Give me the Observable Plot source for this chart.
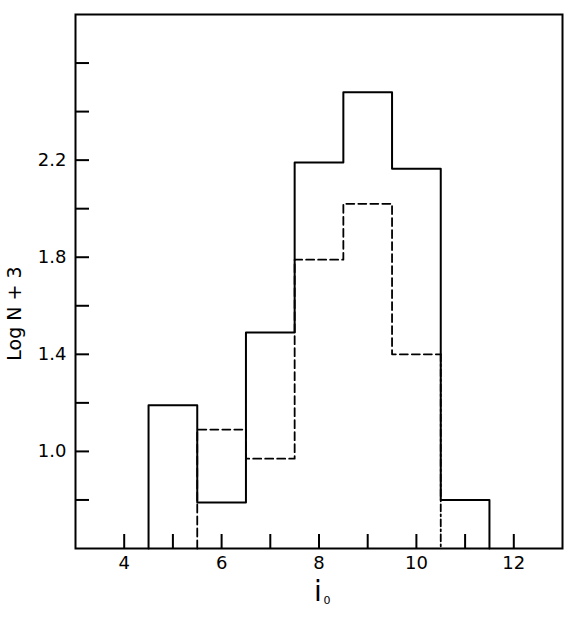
<!DOCTYPE html>
<html><head><meta charset="utf-8">
<script src="https://cdn.jsdelivr.net/npm/d3@7"></script>
<script src="https://cdn.jsdelivr.net/npm/@observablehq/plot@0.6"></script>
<style>body{margin:0;background:#fff}</style>
</head><body><div id="chart"></div>
<script>
// Histogram bin edges and Log N + 3 values
const solidEdges = [4.5, 5.5, 6.5, 7.5, 8.5, 9.5, 10.5, 11.5];
const solidValues = [1.19, 0.79, 1.49, 2.19, 2.48, 2.165, 0.80];
const dashedEdges = [5.5, 6.5, 7.5, 8.5, 9.5, 10.5];
const dashedValues = [1.09, 0.97, 1.79, 2.02, 1.40];
const xTicks = [4, 5, 6, 7, 8, 9, 10, 11, 12];
const xLabels = [4, 6, 8, 10, 12];
const yTicks = [0.8, 1.0, 1.2, 1.4, 1.6, 1.8, 2.0, 2.2, 2.4, 2.6];
const yLabels = [1.0, 1.4, 1.8, 2.2];
const xDomain = [3, 13];
const yDomain = [0.6, 2.8];
const yLabel = "Log N + 3";

function stepPoints(edges, values) {
  const base = yDomain[0];
  const pts = [{x: edges[0], y: base}];
  values.forEach((v, i) => pts.push({x: edges[i], y: v}));
  const last = edges[edges.length - 1];
  pts.push({x: last, y: values[values.length - 1]});
  pts.push({x: last, y: base});
  return pts;
}
const solidPts = stepPoints(solidEdges, solidValues);
const dashedPts = stepPoints(dashedEdges, dashedValues);
const dashedMain = dashedPts.slice(0, -1);
const dashedTail = dashedPts.slice(-2);

const font = "'DejaVu Sans', sans-serif";

const chart = Plot.plot({
  width: 570,
  height: 618,
  marginTop: 14,
  marginRight: 8,
  marginBottom: 70,
  marginLeft: 75,
  style: {fontFamily: font, fontSize: "18px", color: "#000", background: "#fff"},
  x: {domain: xDomain},
  y: {domain: yDomain},
  marks: [
    Plot.line(dashedMain, {x: "x", y: "y", curve: "step-after", stroke: "#000", strokeWidth: 1.8, strokeDasharray: "8,4"}),
    Plot.line(dashedTail, {x: "x", y: "y", stroke: "#000", strokeWidth: 1.8, strokeDasharray: "7,3,2,3"}),
    Plot.line(solidPts, {x: "x", y: "y", curve: "step-after", stroke: "#000", strokeWidth: 2}),
    Plot.axisX(xTicks, {tickSize: -14, tickPadding: 22, strokeWidth: 2, fontSize: 18,
      tickFormat: d => xLabels.includes(d) ? String(d) : "", label: null}),
    Plot.axisY(yTicks, {tickSize: -14, tickPadding: 23, strokeWidth: 2, fontSize: 18,
      tickFormat: d => yLabels.includes(d) ? d.toFixed(1) : "", label: null}),
    Plot.frame({stroke: "#000", strokeWidth: 2}),
    Plot.text([yLabel], {frameAnchor: "left", dx: -61, dy: 32, rotate: -90, textAnchor: "middle", lineAnchor: "middle", fontSize: 19}),
    Plot.text(["i"], {frameAnchor: "bottom", dx: -1, dy: 44, textAnchor: "middle", lineAnchor: "middle", fontSize: 28}),
    Plot.text(["0"], {frameAnchor: "bottom", dx: 8, dy: 52, textAnchor: "middle", lineAnchor: "middle", fontSize: 11}),
  ]
});
document.getElementById("chart").appendChild(chart);
</script>
</body></html>
